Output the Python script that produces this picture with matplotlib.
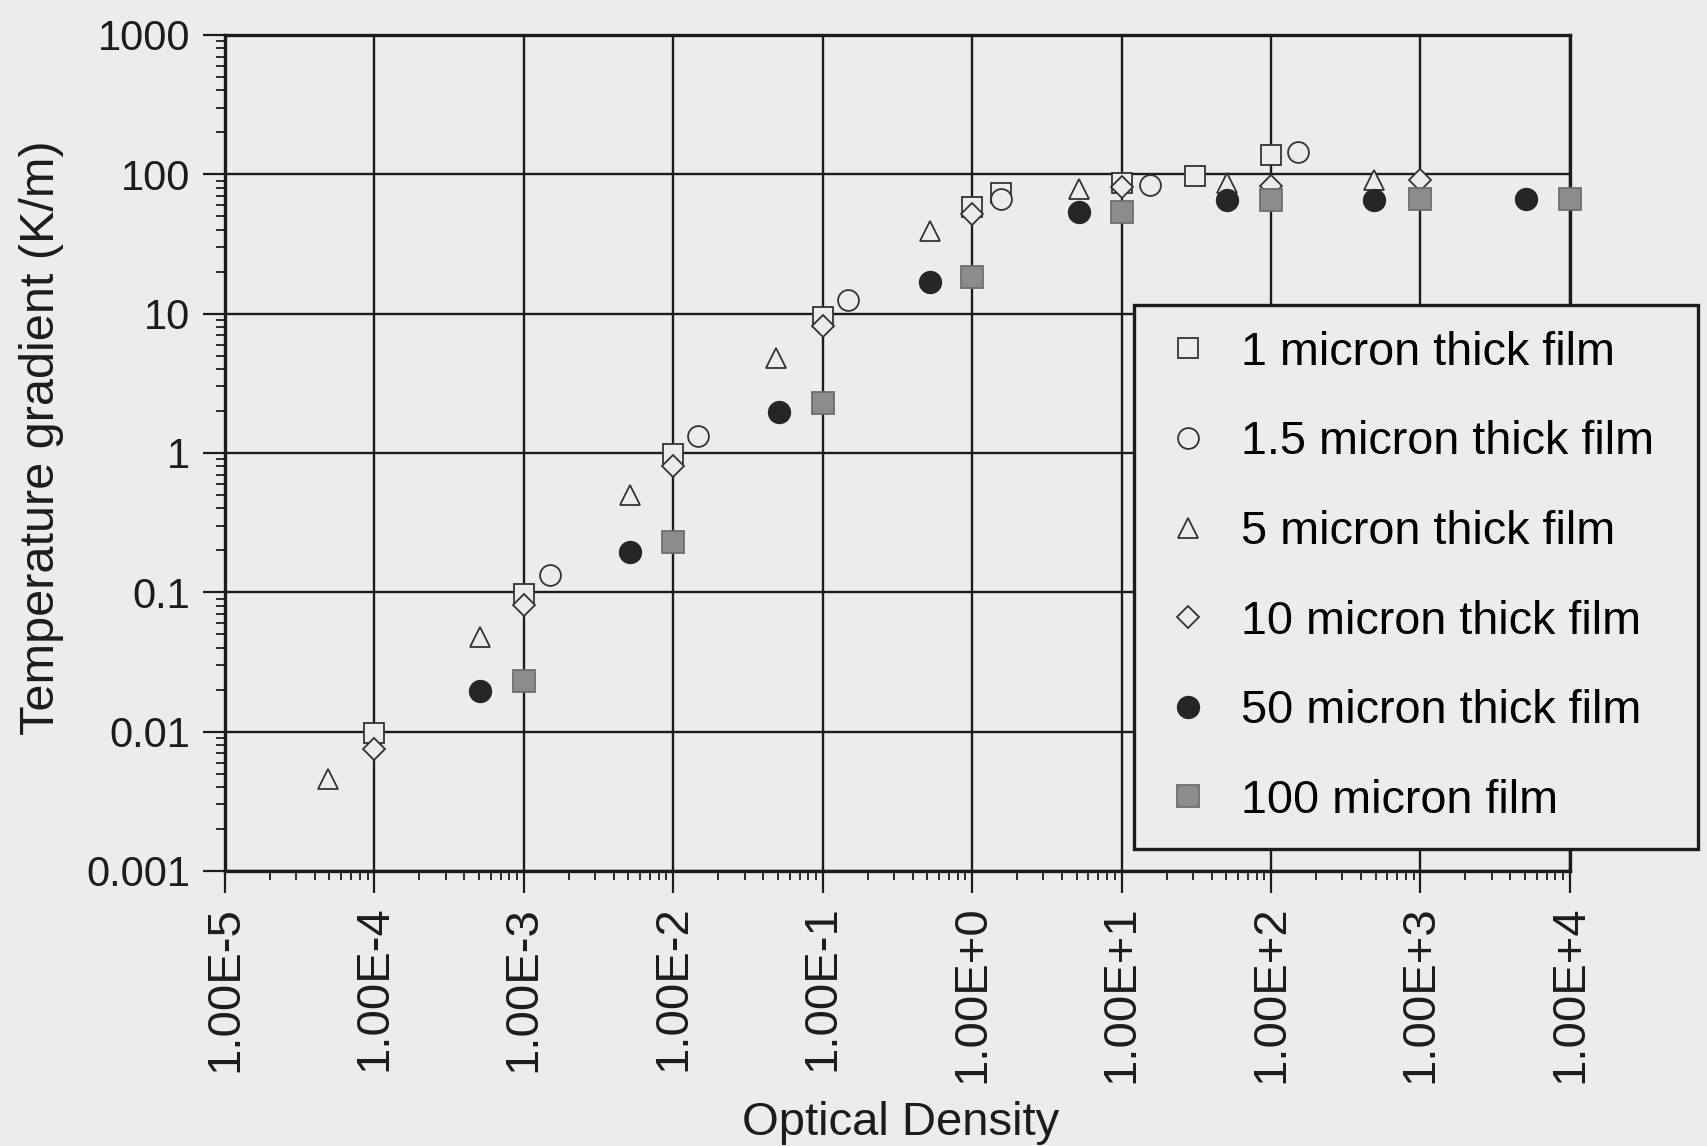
import matplotlib
matplotlib.use('Agg')
import matplotlib.pyplot as plt
from matplotlib.ticker import LogLocator, FixedLocator, FixedFormatter, NullFormatter

plt.rcParams['font.family'] = ['Liberation Sans', 'DejaVu Sans']

# values
x_1um = [1e-4, 1e-3, 1e-2, 1e-1, 1, 1.55, 10, 31, 100]
y_1um = [0.0098, 0.098, 0.98, 9.5, 58, 73, 86, 98, 137]

x_15um = [0.0015, 0.0147, 0.148, 1.55, 15.5, 152]
y_15um = [0.133, 1.33, 12.6, 67, 84, 145]

x_5um = [4.9e-5, 5.1e-4, 5.1e-3, 0.049, 0.52, 5.2, 51, 490]
y_5um = [0.0046, 0.048, 0.50, 4.8, 39, 79, 86, 91]

x_10um = [1e-4, 1e-3, 1e-2, 1e-1, 1, 10, 100, 1000]
y_10um = [0.0075, 0.081, 0.81, 8.1, 52, 81, 83, 91]

x_50um = [5.1e-4, 5.1e-3, 0.051, 0.52, 5.2, 51, 490, 5060]
y_50um = [0.0196, 0.195, 1.96, 16.9, 54, 65, 65, 66]

x_100um = [1e-3, 1e-2, 1e-1, 1, 10, 100, 1000, 10000]
y_100um = [0.023, 0.23, 2.3, 18.4, 54, 65, 66, 66]

labels = ['1 micron thick film', '1.5 micron thick film', '5 micron thick film',
          '10 micron thick film', '50 micron thick film', '100 micron film']

x_ticks = [1e-5, 1e-4, 1e-3, 1e-2, 1e-1, 1, 10, 100, 1000, 10000]
x_ticklabels = ['1.00E-5', '1.00E-4', '1.00E-3', '1.00E-2', '1.00E-1',
                '1.00E+0', '1.00E+1', '1.00E+2', '1.00E+3', '1.00E+4']
y_ticks = [0.001, 0.01, 0.1, 1, 10, 100, 1000]
y_ticklabels = ['0.001', '0.01', '0.1', '1', '10', '100', '1000']

bg = '#ececec'
ink = '#1c1c1c'

fig = plt.figure(figsize=(17.07, 11.46), dpi=100, facecolor=bg)
ax = fig.add_axes([0.1318, 0.2400, 0.7879, 0.7295], facecolor=bg)
ax.set_xscale('log')
ax.set_yscale('log')
ax.set_xlim(1e-5, 1e4)
ax.set_ylim(1e-3, 1e3)

series = [
    (x_1um, y_1um, dict(marker='s', ms=15, mfc=bg, mec='#333333')),
    (x_15um, y_15um, dict(marker='o', ms=15, mfc=bg, mec='#333333')),
    (x_5um, y_5um, dict(marker='^', ms=15, mfc=bg, mec='#333333')),
    (x_10um, y_10um, dict(marker='D', ms=11, mfc=bg, mec='#333333')),
    (x_50um, y_50um, dict(marker='o', ms=15.5, mfc='#262626', mec='#262626')),
    (x_100um, y_100um, dict(marker='s', ms=16, mfc='#8c8c8c', mec='#6e6e6e')),
]
for i, ((xs, ys, style), lab) in enumerate(zip(series, labels)):
    ax.plot(xs, ys, linestyle='none', mew=1.3, label=lab, zorder=3 + i,
            clip_on=False, **style)

ax.grid(True, which='major', color=ink, linewidth=1.7)
ax.set_axisbelow(True)
for s in ax.spines.values():
    s.set_linewidth(2.4)
    s.set_color(ink)

ax.xaxis.set_major_locator(FixedLocator(x_ticks))
ax.xaxis.set_major_formatter(FixedFormatter(x_ticklabels))
ax.xaxis.set_minor_locator(LogLocator(base=10, subs=range(2, 10), numticks=20))
ax.xaxis.set_minor_formatter(NullFormatter())
ax.yaxis.set_major_locator(FixedLocator(y_ticks))
ax.yaxis.set_major_formatter(FixedFormatter(y_ticklabels))
ax.yaxis.set_minor_locator(LogLocator(base=10, subs=range(2, 10), numticks=20))
ax.yaxis.set_minor_formatter(NullFormatter())

ax.tick_params(which='major', direction='out', length=16, width=1.6, color=ink)
ax.tick_params(which='minor', direction='out', length=6.5, width=1.3, color=ink)
ax.tick_params(axis='y', which='major', labelsize=30, pad=9, labelcolor=ink)
ax.tick_params(axis='x', which='major', labelsize=34, pad=9, labelcolor=ink,
               labelrotation=90)

ax.set_xlabel('Optical Density', fontsize=34, color=ink)
ax.set_ylabel('Temperature gradient (K/m)', fontsize=35, color=ink)
ax.xaxis.set_label_coords(0.502, -0.275)
ax.yaxis.set_label_coords(-0.120, 0.518)

# expand mode so the frame spans the same width as in the original
leg = ax.legend(loc='upper left', mode='expand',
                bbox_to_anchor=(0.6645, 0.2627, 0.3303, 0.4712),
                bbox_transform=fig.transFigure, fontsize=33.7, frameon=True,
                fancybox=False, facecolor=bg, edgecolor=ink, framealpha=1,
                handlelength=1.2, handletextpad=0.53, borderpad=0.55,
                labelspacing=0.975, markerscale=1.0, borderaxespad=0)
leg.get_frame().set_linewidth(2.4)
leg.set_zorder(20)

fig.savefig('out.png', dpi=100, facecolor=bg)
